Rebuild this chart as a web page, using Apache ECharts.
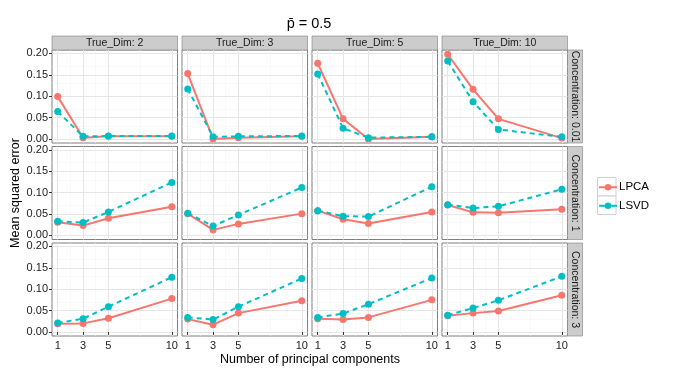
<!DOCTYPE html>
<html><head><meta charset="utf-8">
<script src="https://cdn.jsdelivr.net/npm/echarts@6/dist/echarts.min.js"></script>
<style>html,body{margin:0;padding:0;background:#fff}#c{width:675px;height:375px}</style>
</head><body><div id="c"></div>
<script>
const dims = ['2', '3', '5', '10'];
const concs = ['0.01', '1', '3'];
const xValues = [1, 3, 5, 10];
const xTicks = [1, 3, 5, 10];
const xMinor = [2, 4, 7.5];
const yTicks = [0, 0.05, 0.1, 0.15, 0.2];
const yMinor = [0.025, 0.075, 0.125, 0.175];
const seriesNames = ['LPCA', 'LSVD'];

// rows: concentration; each inner array: one True_Dim panel, values at xValues
const lpca_c001 = [[0.099, 0.003, 0.006, 0.006], [0.153, 0.000, 0.003, 0.006], [0.177, 0.047, 0.000, 0.005], [0.198, 0.116, 0.047, 0.002]];
const lsvd_c001 = [[0.064, 0.006, 0.007, 0.007], [0.117, 0.005, 0.006, 0.007], [0.152, 0.025, 0.003, 0.005], [0.182, 0.087, 0.022, 0.005]];
const lpca_c1 = [[0.031, 0.023, 0.040, 0.067], [0.051, 0.013, 0.027, 0.051], [0.058, 0.038, 0.028, 0.055], [0.071, 0.054, 0.053, 0.061]];
const lsvd_c1 = [[0.033, 0.030, 0.055, 0.124], [0.052, 0.022, 0.048, 0.112], [0.058, 0.045, 0.044, 0.114], [0.072, 0.064, 0.068, 0.108]];
const lpca_c3 = [[0.019, 0.020, 0.032, 0.078], [0.030, 0.017, 0.044, 0.073], [0.031, 0.029, 0.034, 0.075], [0.038, 0.044, 0.049, 0.086]];
const lsvd_c3 = [[0.021, 0.031, 0.059, 0.128], [0.034, 0.029, 0.059, 0.125], [0.034, 0.043, 0.065, 0.126], [0.039, 0.056, 0.074, 0.130]];

const lpcaRows = [lpca_c001, lpca_c1, lpca_c3];
const lsvdRows = [lsvd_c001, lsvd_c1, lsvd_c3];

const colors = {LPCA: '#F8766D', LSVD: '#00BFC4'};
const FONT = 'Liberation Sans, Arial, sans-serif';

const colLeft = [52, 182, 312, 442];
const panelW = 125.5;
const rowTop = [50, 146.5, 243];
const panelH = 93;
const stripH = 14;

const grids = [], xAxes = [], yAxes = [], series = [], graphics = [];
let gi = 0;
for (let r = 0; r < 3; r++) {
  for (let c = 0; c < 4; c++) {
    grids.push({left: colLeft[c], top: rowTop[r], width: panelW, height: panelH,
      show: true, backgroundColor: '#ffffff', borderColor: '#7f7f7f', borderWidth: 1, containLabel: false});
    xAxes.push({type: 'value', gridIndex: gi, min: 0.55, max: 10.45,
      splitLine: {show: false}, axisLine: {show: false},
      axisTick: {show: r === 2, length: 3, inside: false, lineStyle: {color: '#333'}, customValues: xTicks},
      axisLabel: {show: r === 2, customValues: xTicks, fontSize: 11, color: '#222', fontFamily: FONT, margin: 4}});
    yAxes.push({type: 'value', gridIndex: gi, min: -0.0095, max: 0.208,
      splitLine: {show: false}, axisLine: {show: false},
      axisTick: {show: c === 0, length: 3, lineStyle: {color: '#333'}, customValues: yTicks},
      axisLabel: {show: c === 0, customValues: yTicks, fontSize: 11, color: '#222', fontFamily: FONT, margin: 4,
        formatter: v => v.toFixed(2)}});
    const ml = [];
    yMinor.forEach(v => ml.push({yAxis: v, lineStyle: {color: '#f5f5f5', width: 0.6, type: 'solid'}}));
    xMinor.forEach(v => ml.push({xAxis: v, lineStyle: {color: '#f5f5f5', width: 0.6, type: 'solid'}}));
    yTicks.forEach(v => ml.push({yAxis: v, lineStyle: {color: '#e6e6e6', width: 1, type: 'solid'}}));
    xTicks.forEach(v => ml.push({xAxis: v, lineStyle: {color: '#e6e6e6', width: 1, type: 'solid'}}));
    series.push({type: 'line', xAxisIndex: gi, yAxisIndex: gi, data: [], silent: true, z: 0, zlevel: 0,
      markLine: {silent: true, symbol: 'none', label: {show: false}, animation: false, z: 0, data: ml}});
    const sets = [lpcaRows[r][c], lsvdRows[r][c]];
    seriesNames.forEach((nm, k) => {
      series.push({name: nm, type: 'line', xAxisIndex: gi, yAxisIndex: gi, z: 3 + k,
        data: xValues.map((x, i) => [x, sets[k][i]]),
        symbol: 'circle', symbolSize: 7, showSymbol: true,
        itemStyle: {color: colors[nm], borderWidth: 0},
        lineStyle: {color: colors[nm], width: 2, type: k === 1 ? [5, 4] : 'solid'},
        animation: false});
    });
    gi++;
  }
}

// top strips
for (let c = 0; c < 4; c++) {
  graphics.push({type: 'rect', shape: {x: colLeft[c], y: rowTop[0] - stripH, width: panelW, height: stripH},
    style: {fill: '#cccccc', stroke: '#7f7f7f', lineWidth: 0.6}});
  graphics.push({type: 'text', x: colLeft[c] + panelW / 2, y: rowTop[0] - stripH / 2,
    style: {text: 'True_Dim: ' + dims[c], font: '10.5px ' + FONT, fill: '#1a1a1a', align: 'center', verticalAlign: 'middle'}});
}
// right strips
const rsX = colLeft[3] + panelW;
for (let r = 0; r < 3; r++) {
  graphics.push({type: 'rect', shape: {x: rsX, y: rowTop[r], width: 15, height: panelH},
    style: {fill: '#cccccc', stroke: '#7f7f7f', lineWidth: 0.6}});
  graphics.push({type: 'text', x: rsX + 7.5, y: rowTop[r] + panelH / 2, rotation: -Math.PI / 2,
    style: {text: 'Concentration: ' + concs[r], font: '10.5px ' + FONT, fill: '#1a1a1a', align: 'center', verticalAlign: 'middle'}});
}
// legend key boxes
[0, 1].forEach(k => graphics.push({type: 'rect', z: -1, shape: {x: 597.5, y: 177.5 + 18.5 * k, width: 18.5, height: 18.5},
  style: {fill: '#ffffff', stroke: '#d0d0d0', lineWidth: 1}}));
// axis titles & title
graphics.push({type: 'text', x: 310, y: 360, style: {text: 'Number of principal components', font: '12.5px ' + FONT, fill: '#000', align: 'center', verticalAlign: 'middle'}});
graphics.push({type: 'text', x: 16, y: 193, rotation: Math.PI / 2, style: {text: 'Mean squared error', font: '12.5px ' + FONT, fill: '#000', align: 'center', verticalAlign: 'middle'}});
graphics.push({type: 'text', x: 309, y: 24, style: {text: 'p\u0304 = 0.5', font: '14.5px ' + FONT, fill: '#000', align: 'center', verticalAlign: 'middle'}});

const chart = echarts.init(document.getElementById('c'), null, {renderer: 'canvas'});
chart.setOption({
  animation: false,
  backgroundColor: '#ffffff',
  grid: grids, xAxis: xAxes, yAxis: yAxes, series: series,
  legend: {data: seriesNames, orient: 'vertical', left: 598, top: 178, itemWidth: 18, itemHeight: 8, itemGap: 0,
    lineStyle: {type: 'solid', width: 2},
    textStyle: {fontSize: 11.5, fontFamily: FONT, color: '#000', lineHeight: 18.5, padding: [0, 0, 0, -3]}, padding: 0},
  graphic: graphics
});
</script></body></html>
